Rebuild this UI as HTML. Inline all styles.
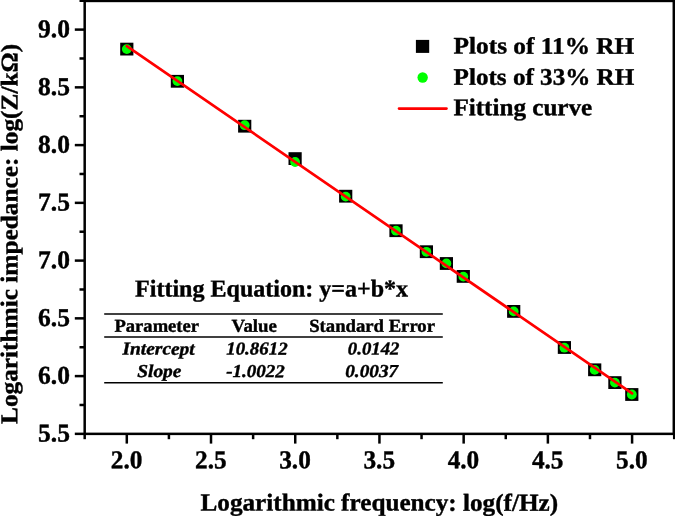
<!DOCTYPE html>
<html><head><meta charset="utf-8"><title>Chart</title>
<style>html,body{margin:0;padding:0;background:#fff;overflow:hidden}svg{display:block;will-change:transform}text{font-family:"Liberation Serif",serif;font-weight:bold;fill:#000;stroke:#000;stroke-width:0.4px;stroke-linejoin:round;text-rendering:geometricPrecision}</style>
</head><body>
<svg width="675" height="516" viewBox="0 0 675 516">
<rect x="0" y="0" width="675" height="516" fill="#fff"/>
<rect x="84.69" y="0.93" width="589.11" height="432.93" fill="none" stroke="#000" stroke-width="2.5"/>
<g stroke="#000" stroke-width="2.5">
<line x1="74.8" x2="84.69" y1="433.85" y2="433.85"/>
<line x1="74.8" x2="84.69" y1="376.10" y2="376.10"/>
<line x1="74.8" x2="84.69" y1="318.35" y2="318.35"/>
<line x1="74.8" x2="84.69" y1="260.60" y2="260.60"/>
<line x1="74.8" x2="84.69" y1="202.85" y2="202.85"/>
<line x1="74.8" x2="84.69" y1="145.10" y2="145.10"/>
<line x1="74.8" x2="84.69" y1="87.35" y2="87.35"/>
<line x1="74.8" x2="84.69" y1="29.60" y2="29.60"/>
<line x1="79.5" x2="84.69" y1="404.98" y2="404.98"/>
<line x1="79.5" x2="84.69" y1="347.23" y2="347.23"/>
<line x1="79.5" x2="84.69" y1="289.48" y2="289.48"/>
<line x1="79.5" x2="84.69" y1="231.72" y2="231.72"/>
<line x1="79.5" x2="84.69" y1="173.97" y2="173.97"/>
<line x1="79.5" x2="84.69" y1="116.22" y2="116.22"/>
<line x1="79.5" x2="84.69" y1="58.48" y2="58.48"/>
<line x1="79.5" x2="84.69" y1="0.73" y2="0.73"/>
<line y1="433.85" y2="443.6" x1="126.80" x2="126.80"/>
<line y1="433.85" y2="443.6" x1="211.01" x2="211.01"/>
<line y1="433.85" y2="443.6" x1="295.23" x2="295.23"/>
<line y1="433.85" y2="443.6" x1="379.44" x2="379.44"/>
<line y1="433.85" y2="443.6" x1="463.66" x2="463.66"/>
<line y1="433.85" y2="443.6" x1="547.88" x2="547.88"/>
<line y1="433.85" y2="443.6" x1="632.09" x2="632.09"/>
<line y1="433.85" y2="439.2" x1="84.69" x2="84.69"/>
<line y1="433.85" y2="439.2" x1="168.91" x2="168.91"/>
<line y1="433.85" y2="439.2" x1="253.12" x2="253.12"/>
<line y1="433.85" y2="439.2" x1="337.34" x2="337.34"/>
<line y1="433.85" y2="439.2" x1="421.55" x2="421.55"/>
<line y1="433.85" y2="439.2" x1="505.77" x2="505.77"/>
<line y1="433.85" y2="439.2" x1="589.98" x2="589.98"/>
<line y1="433.85" y2="439.2" x1="674.20" x2="674.20"/>
</g>
<text transform="translate(38.10,441.45) rotate(0.03)" font-size="25.7" textLength="31.90" lengthAdjust="spacingAndGlyphs">5.5</text>
<text transform="translate(38.10,383.70) rotate(0.03)" font-size="25.7" textLength="31.90" lengthAdjust="spacingAndGlyphs">6.0</text>
<text transform="translate(38.10,325.95) rotate(0.03)" font-size="25.7" textLength="31.90" lengthAdjust="spacingAndGlyphs">6.5</text>
<text transform="translate(38.10,268.20) rotate(0.03)" font-size="25.7" textLength="31.90" lengthAdjust="spacingAndGlyphs">7.0</text>
<text transform="translate(38.10,210.45) rotate(0.03)" font-size="25.7" textLength="31.90" lengthAdjust="spacingAndGlyphs">7.5</text>
<text transform="translate(38.10,152.70) rotate(0.03)" font-size="25.7" textLength="31.90" lengthAdjust="spacingAndGlyphs">8.0</text>
<text transform="translate(38.10,94.95) rotate(0.03)" font-size="25.7" textLength="31.90" lengthAdjust="spacingAndGlyphs">8.5</text>
<text transform="translate(38.10,37.20) rotate(0.03)" font-size="25.7" textLength="31.90" lengthAdjust="spacingAndGlyphs">9.0</text>
<text transform="translate(110.80,468.30) rotate(0.03)" font-size="25.7" textLength="31.60" lengthAdjust="spacingAndGlyphs">2.0</text>
<text transform="translate(195.01,468.30) rotate(0.03)" font-size="25.7" textLength="31.60" lengthAdjust="spacingAndGlyphs">2.5</text>
<text transform="translate(279.23,468.30) rotate(0.03)" font-size="25.7" textLength="31.60" lengthAdjust="spacingAndGlyphs">3.0</text>
<text transform="translate(363.44,468.30) rotate(0.03)" font-size="25.7" textLength="31.60" lengthAdjust="spacingAndGlyphs">3.5</text>
<text transform="translate(447.66,468.30) rotate(0.03)" font-size="25.7" textLength="31.60" lengthAdjust="spacingAndGlyphs">4.0</text>
<text transform="translate(531.88,468.30) rotate(0.03)" font-size="25.7" textLength="31.60" lengthAdjust="spacingAndGlyphs">4.5</text>
<text transform="translate(616.09,468.30) rotate(0.03)" font-size="25.7" textLength="31.60" lengthAdjust="spacingAndGlyphs">5.0</text>
<text transform="translate(379.30,510.60) rotate(0.03)" font-size="24.4" text-anchor="middle" textLength="357.50" lengthAdjust="spacingAndGlyphs">Logarithmic frequency: log(f/Hz)</text>
<text transform="translate(17.40,233.90) rotate(-89.97)" font-size="24.1" text-anchor="middle" textLength="380.20" lengthAdjust="spacingAndGlyphs">Logarithmic impedance: log(Z/k&#937;)</text>
<rect x="120.20" y="42.70" width="13.2" height="12.8" fill="#000"/>
<rect x="170.80" y="74.90" width="13.2" height="12.8" fill="#000"/>
<rect x="238.10" y="119.80" width="13.2" height="12.8" fill="#000"/>
<rect x="288.50" y="152.20" width="13.2" height="12.8" fill="#000"/>
<rect x="339.10" y="189.80" width="13.2" height="12.8" fill="#000"/>
<rect x="389.40" y="224.30" width="13.2" height="12.8" fill="#000"/>
<rect x="419.80" y="245.30" width="13.2" height="12.8" fill="#000"/>
<rect x="439.80" y="257.10" width="13.2" height="12.8" fill="#000"/>
<rect x="456.70" y="270.00" width="13.2" height="12.8" fill="#000"/>
<rect x="507.10" y="305.00" width="13.2" height="12.8" fill="#000"/>
<rect x="557.80" y="341.10" width="13.2" height="12.8" fill="#000"/>
<rect x="588.10" y="363.40" width="13.2" height="12.8" fill="#000"/>
<rect x="608.30" y="376.20" width="13.2" height="12.8" fill="#000"/>
<rect x="625.20" y="388.10" width="13.2" height="12.8" fill="#000"/>
<circle cx="126.80" cy="49.10" r="4.9" fill="#00ff00"/>
<circle cx="177.40" cy="81.10" r="4.9" fill="#00ff00"/>
<circle cx="244.70" cy="125.20" r="4.9" fill="#00ff00"/>
<circle cx="295.10" cy="162.00" r="4.9" fill="#00ff00"/>
<circle cx="345.70" cy="196.60" r="4.9" fill="#00ff00"/>
<circle cx="396.00" cy="230.70" r="4.9" fill="#00ff00"/>
<circle cx="426.40" cy="251.80" r="4.9" fill="#00ff00"/>
<circle cx="446.40" cy="263.40" r="4.9" fill="#00ff00"/>
<circle cx="463.30" cy="276.60" r="4.9" fill="#00ff00"/>
<circle cx="513.70" cy="311.40" r="4.9" fill="#00ff00"/>
<circle cx="564.40" cy="347.70" r="4.9" fill="#00ff00"/>
<circle cx="594.70" cy="369.90" r="4.9" fill="#00ff00"/>
<circle cx="614.90" cy="382.60" r="4.9" fill="#00ff00"/>
<circle cx="631.80" cy="394.50" r="4.9" fill="#00ff00"/>
<line x1="126.80" y1="46.14" x2="632.09" y2="393.40" stroke="#ff0000" stroke-width="2.7" stroke-linecap="round"/>
<rect x="415.9" y="39.9" width="13.3" height="13.0" fill="#000"/>
<circle cx="422.65" cy="77.45" r="5.2" fill="#00ff00"/>
<line x1="399" x2="446.5" y1="108.6" y2="108.6" stroke="#ff0000" stroke-width="2.6" stroke-linecap="round"/>
<text transform="translate(453.60,53.60) rotate(0.03)" font-size="23.7" textLength="180.70" lengthAdjust="spacingAndGlyphs">Plots of 11% RH</text>
<text transform="translate(453.60,84.70) rotate(0.03)" font-size="23.7" textLength="180.70" lengthAdjust="spacingAndGlyphs">Plots of 33% RH</text>
<text transform="translate(453.40,115.30) rotate(0.03)" font-size="24.2" textLength="138.80" lengthAdjust="spacingAndGlyphs">Fitting curve</text>
<text transform="translate(271.60,296.50) rotate(0.03)" font-size="24.2" text-anchor="middle" textLength="273.00" lengthAdjust="spacingAndGlyphs">Fitting Equation: y=a+b*x</text>
<g stroke="#000" stroke-width="1.5">
<line x1="104.2" x2="442.8" y1="313.9" y2="313.9"/>
<line x1="104.2" x2="442.8" y1="337.0" y2="337.0"/>
<line x1="104.2" x2="442.8" y1="382.8" y2="382.8"/>
</g>
<text transform="translate(114.50,331.80) rotate(0.03)" font-size="18.2" textLength="84.50" lengthAdjust="spacingAndGlyphs">Parameter</text>
<text transform="translate(231.50,331.80) rotate(0.03)" font-size="18.2" textLength="45.40" lengthAdjust="spacingAndGlyphs">Value</text>
<text transform="translate(309.20,331.80) rotate(0.03)" font-size="18.2" textLength="125.80" lengthAdjust="spacingAndGlyphs">Standard Error</text>
<text transform="translate(122.50,354.60) rotate(0.03)" font-size="18.2" font-style="italic" textLength="72.20" lengthAdjust="spacingAndGlyphs">Intercept</text>
<text transform="translate(226.20,354.60) rotate(0.03)" font-size="18.2" font-style="italic" textLength="61.40" lengthAdjust="spacingAndGlyphs">10.8612</text>
<text transform="translate(347.80,354.60) rotate(0.03)" font-size="18.2" font-style="italic" textLength="51.70" lengthAdjust="spacingAndGlyphs">0.0142</text>
<text transform="translate(137.20,377.10) rotate(0.03)" font-size="18.2" font-style="italic" textLength="44.20" lengthAdjust="spacingAndGlyphs">Slope</text>
<text transform="translate(226.20,377.10) rotate(0.03)" font-size="18.2" font-style="italic" textLength="58.70" lengthAdjust="spacingAndGlyphs">-1.0022</text>
<text transform="translate(345.20,377.10) rotate(0.03)" font-size="18.2" font-style="italic" textLength="53.00" lengthAdjust="spacingAndGlyphs">0.0037</text>
</svg></body></html>
